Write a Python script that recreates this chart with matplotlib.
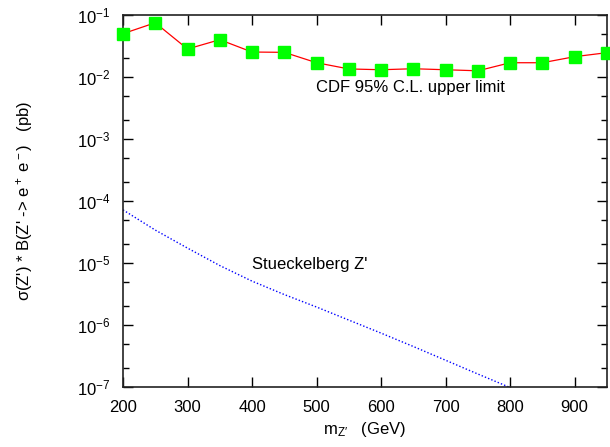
import numpy as np
import matplotlib
matplotlib.use("Agg")
import matplotlib.pyplot as plt
from matplotlib.ticker import LogLocator, FixedLocator, LogFormatterMathtext, NullFormatter

plt.rcParams['font.family'] = ['Liberation Sans', 'DejaVu Sans']
plt.rcParams['mathtext.fontset'] = 'custom'
plt.rcParams['mathtext.rm'] = 'Liberation Sans'
plt.rcParams['mathtext.it'] = 'Liberation Sans'
plt.rcParams['mathtext.default'] = 'regular'

# CDF 95% C.L. upper limit
cdf_mass = [200, 250, 300, 350, 400, 450, 500, 550, 600, 650, 700, 750, 800, 850, 900, 950]
cdf_limit = [0.050, 0.075, 0.0283, 0.040, 0.0253, 0.025, 0.0170, 0.0135, 0.0131, 0.0136,
             0.0131, 0.0126, 0.0170, 0.0170, 0.0213, 0.0247]

# Stueckelberg Z' prediction
stk_mass = [200, 250, 300, 350, 400, 450, 500, 550, 600, 650, 700, 750, 800]
stk_sigma = [7.2e-5, 3.4e-5, 1.74e-5, 9.1e-6, 5.1e-6, 3.1e-6, 1.95e-6, 1.2e-6,
             7.4e-7, 4.5e-7, 2.7e-7, 1.62e-7, 9.8e-8]

x_ticks = [200, 300, 400, 500, 600, 700, 800, 900]

fig = plt.figure(figsize=(6.10, 4.47), dpi=100)
ax = fig.add_axes([0.2016, 0.1342, 0.7934, 0.8322])

ax.plot(cdf_mass, cdf_limit, color='#ff0000', lw=0.9, zorder=3)
ax.plot(cdf_mass, cdf_limit, ls='none', marker='s', ms=8.5,
        mfc='#00ff00', mec='#00ff00', clip_on=False, zorder=4)
ax.plot(stk_mass, stk_sigma, color='#0000ff', lw=1.0, ls=(0, (1, 1.5)), zorder=2)

ax.set_yscale('log')
ax.set_xlim(200, 950)
ax.set_ylim(1e-7, 1e-1)

ax.xaxis.set_major_locator(FixedLocator(x_ticks))
ax.yaxis.set_major_locator(LogLocator(base=10, numticks=20))
ax.yaxis.set_minor_locator(LogLocator(base=10, subs=(2.0, 5.0), numticks=20))
ax.yaxis.set_major_formatter(LogFormatterMathtext())
ax.yaxis.set_minor_formatter(NullFormatter())

ax.tick_params(which='both', direction='in', top=True, right=True, labelsize=12,
               color='black', width=1.0)
ax.tick_params(which='major', length=7)
ax.tick_params(axis='x', which='major', pad=9)
ax.tick_params(axis='y', which='major', pad=9)
ax.tick_params(which='minor', length=4)
for s in ax.spines.values():
    s.set_linewidth(1.2)
    s.set_color('#222222')

ax.text(499, 6.9e-3, "CDF 95% C.L. upper limit", fontsize=12, ha='left', va='center')
ax.text(400, 9.6e-6, "Stueckelberg Z'", fontsize=12, ha='left', va='center')

ax.set_xlabel("m$_{Z\\prime}$   (GeV)", fontsize=12, labelpad=4)
ax.set_ylabel("σ(Z') * B(Z' -> e$^+$ e$^-$)   (pb)", fontsize=12, labelpad=30)

fig.savefig("out.png", dpi=100)
